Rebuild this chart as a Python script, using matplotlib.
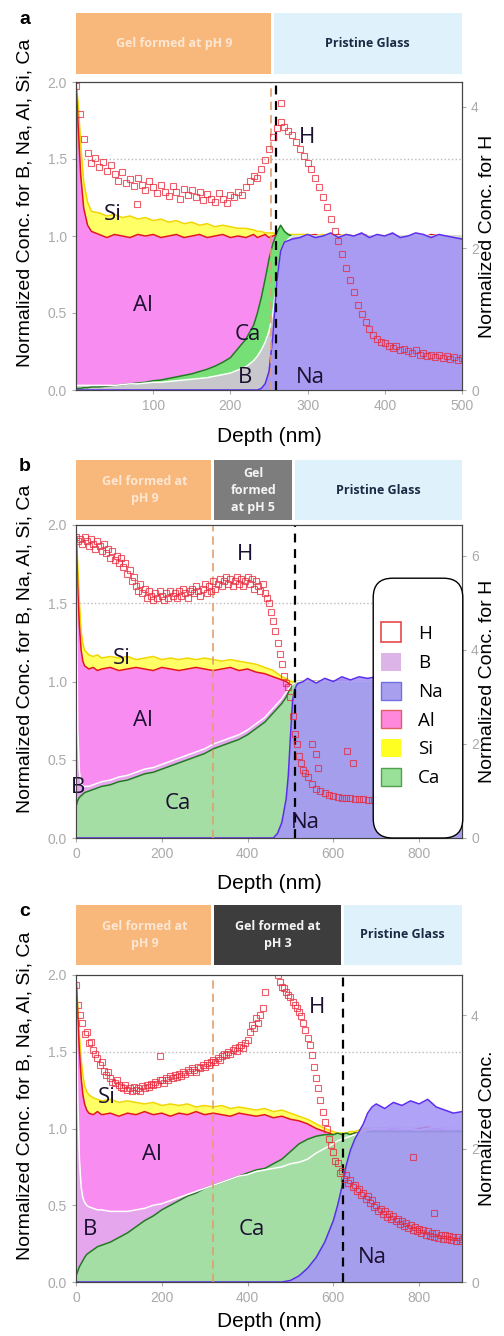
import matplotlib
matplotlib.use("Agg")
import matplotlib.pyplot as plt
from matplotlib.patches import Patch, FancyBboxPatch
from matplotlib.lines import Line2D

plt.rcParams["font.family"] = ["Liberation Sans", "DejaVu Sans"]

# ---------------- panel a : gel formed at pH 9 ----------------
DEPTH_A = [0, 3, 6, 10, 15, 20, 30, 40, 50, 60, 70, 80, 90, 100, 110, 120, 130, 140, 150, 160,
           170, 180, 190, 200, 210, 220, 230, 235, 240, 245, 250, 255, 260, 265, 270, 275, 280,
           290, 300, 310, 320, 330, 340, 350, 360, 370, 380, 390, 400, 410, 420, 430, 440, 450,
           460, 470, 480, 490, 500]
AL_A = [2.0, 1.7, 1.4, 1.18, 1.07, 1.03,
        1.01, 0.99, 1.01, 1.0, 0.99, 1.01, 1.0, 1.01, 0.99, 1.0, 1.01, 0.99, 1.0, 1.01, 0.99,
        1.0, 1.01, 0.99, 1.0, 0.99, 1.01,
        0.99, 1.0, 1.01, 0.99, 1.0, 1.01, 1.0, 0.99, 1.0, 1.0,
        0.99, 1.0, 1.01, 0.99, 1.0, 1.01, 0.99, 1.0, 1.01, 1.0, 0.99, 1.0, 1.01, 0.99, 1.0, 1.0,
        0.99, 1.01, 1.0, 0.99, 1.0, 1.0]
SI_A = [2.0, 1.85, 1.6, 1.35, 1.22, 1.16,
        1.15, 1.13, 1.14, 1.12, 1.13, 1.11, 1.12, 1.1, 1.11, 1.09, 1.1, 1.08, 1.09, 1.07, 1.08,
        1.06, 1.07, 1.06, 1.05, 1.05, 1.04,
        1.03, 1.03, 1.02, 1.02, 1.02, 1.01, 1.01, 1.01, 1.01, 1.01,
        1.01, 1.01, 1.0, 1.01, 1.0, 1.0, 1.01, 1.0, 1.0, 1.0, 1.0, 1.0, 1.0, 1.0, 1.0, 1.0,
        1.0, 1.0, 1.0, 1.0, 1.0, 1.0]
CA_A = [0.01, 0.01, 0.01, 0.015, 0.015, 0.02,
        0.02, 0.025, 0.03, 0.035, 0.04, 0.045, 0.05, 0.06, 0.065, 0.075, 0.085, 0.095, 0.105,
        0.12, 0.135, 0.155, 0.18, 0.21, 0.27, 0.33, 0.42,
        0.5, 0.6, 0.72, 0.85, 0.95, 1.02, 1.07, 1.03, 1.01, 1.0,
        1.0, 1.0, 1.0, 1.0, 1.0, 1.0, 1.0, 1.0, 1.0, 1.0, 1.0, 1.0, 1.0, 1.0, 1.0, 1.0,
        1.0, 1.0, 1.0, 1.0, 1.0, 1.0]
B_A = [0.03, 0.03, 0.03, 0.03, 0.03, 0.03,
       0.03, 0.03, 0.03, 0.035, 0.04, 0.04, 0.045, 0.05, 0.05, 0.055, 0.06, 0.065, 0.07,
       0.075, 0.08, 0.09, 0.1, 0.11, 0.13, 0.15, 0.19,
       0.22, 0.26, 0.31, 0.38, 0.5, 0.7, 0.88, 0.95, 0.98, 1.0,
       1.0, 1.0, 1.0, 1.0, 1.0, 1.0, 1.0, 1.0, 1.0, 1.0, 1.0, 1.0, 1.0, 1.0, 1.0, 1.0,
       1.0, 1.0, 1.0, 1.0, 1.0, 1.0]
NA_A = [0.0] * 27 + [
        0.0, 0.01, 0.04, 0.12, 0.35, 0.7, 0.9, 0.96, 0.97, 0.98,
        0.99, 1.01, 0.99, 1.0, 1.02, 0.99, 1.01, 1.0, 1.02, 0.99, 1.01, 1.0, 1.02, 0.99, 1.0,
        1.02, 1.01, 0.99, 1.01, 1.0, 0.99, 0.98]
H_X_A = [0, 5, 10, 15, 20, 25, 30, 35, 40, 45, 50, 55, 60, 65, 70, 75, 80, 85, 90, 95,
         100, 105, 110, 115, 120, 125, 130, 135, 140, 145, 150, 155, 160, 165, 170, 175, 180,
         185, 190, 195, 200, 205, 210, 215, 220, 225, 230, 235, 240, 245, 250, 255, 260, 265,
         270, 275, 280, 285, 290, 295, 300, 305, 310, 315, 320, 325, 330, 335, 340, 345, 350,
         355, 360, 365, 370, 375, 380, 385, 390, 395, 400, 405, 410, 415, 420, 425, 430, 435,
         440, 445, 450, 455, 460, 465, 470, 475, 480, 485, 490, 495, 500, 79, 266]
H_A = [4.3, 3.9, 3.55, 3.35, 3.2, 3.28, 3.15, 3.22, 3.1, 3.18,
       3.05, 2.95, 3.08, 2.92, 2.98, 2.88, 3.0, 2.9, 2.82, 2.95,
       2.86, 2.78, 2.9, 2.8, 2.74, 2.88, 2.79, 2.7, 2.84, 2.76,
       2.82, 2.72, 2.8, 2.68, 2.77, 2.7, 2.66, 2.78, 2.7, 2.64,
       2.76, 2.72, 2.8, 2.75, 2.86, 2.95, 3.02, 3.0, 3.12, 3.25,
       3.4, 3.58, 3.7, 3.78, 3.72, 3.66, 3.6, 3.5, 3.4, 3.3,
       3.2, 3.12, 3.0, 2.86, 2.72, 2.58, 2.42, 2.25, 2.1, 1.92,
       1.72, 1.55, 1.38, 1.2, 1.08, 0.96, 0.86, 0.78, 0.72, 0.68,
       0.66, 0.62, 0.6, 0.62, 0.56, 0.58, 0.55, 0.52, 0.56, 0.5,
       0.52, 0.48, 0.5, 0.47, 0.5, 0.45, 0.48, 0.44, 0.46, 0.43,
       0.45, 2.62, 4.05]

# ---------------- panel b : pH 9 then pH 5 ----------------
DEPTH_B = [0, 4, 8, 12, 16, 20, 30, 40, 50, 60, 80, 100, 120, 140, 160, 180, 200, 220, 240,
           260, 280, 300, 320, 340, 360, 380, 400, 420, 440, 460, 470, 480, 490, 495, 500, 505,
           510, 515, 520, 530, 540, 560, 580, 600, 620, 640, 660, 680, 700, 720, 740, 760, 780,
           800, 820, 840, 860, 880, 900]
AL_B = [2.0, 1.6, 1.35, 1.2, 1.13, 1.1,
        1.08, 1.09, 1.07, 1.08,
        1.09, 1.07, 1.08, 1.09, 1.08, 1.07, 1.09, 1.08, 1.07, 1.08, 1.09, 1.08, 1.07, 1.08,
        1.09, 1.07, 1.08, 1.06, 1.05, 1.03,
        1.02, 1.01, 1.0, 0.99, 0.98, 0.97, 0.97, 0.98, 0.98,
        0.99, 1.0,
        1.0, 0.99, 1.0, 1.01, 1.0, 0.99, 1.0, 1.0, 1.01, 1.0, 0.99, 1.0, 1.0, 1.01, 1.0, 0.99,
        1.0, 1.0]
SI_B = [2.0, 1.75, 1.5, 1.32, 1.24, 1.2,
        1.17, 1.16, 1.17, 1.15,
        1.16, 1.15, 1.16, 1.14, 1.15, 1.16, 1.14, 1.15, 1.14, 1.15, 1.14, 1.15, 1.14, 1.13,
        1.14, 1.13, 1.12, 1.11, 1.09, 1.07,
        1.05, 1.03, 1.02, 1.01, 1.0, 1.0, 1.0, 1.0, 1.0,
        1.0, 1.0,
        1.0, 1.0, 1.0, 1.0, 1.0, 1.0, 1.0, 1.0, 1.0, 1.0, 1.0, 1.0, 1.0, 1.0, 1.0, 1.0, 1.0, 1.0]
CA_B = [0.2, 0.24, 0.26, 0.27, 0.28, 0.29,
        0.3, 0.31, 0.32, 0.33,
        0.34, 0.36, 0.37, 0.39, 0.41, 0.42, 0.44, 0.46, 0.48, 0.5, 0.52, 0.54, 0.57, 0.59,
        0.61, 0.63, 0.66, 0.7, 0.74, 0.8,
        0.83, 0.86, 0.9, 0.93, 0.96, 0.98, 0.99, 1.0, 1.0,
        1.0, 1.0,
        1.0, 1.0, 1.0, 1.0, 1.0, 1.0, 1.0, 1.0, 1.0, 1.0, 1.0, 1.0, 1.0, 1.0, 1.0, 1.0, 1.0, 1.0]
B_B = [1.9, 0.7, 0.42, 0.35, 0.33, 0.33,
       0.33, 0.34, 0.35, 0.36,
       0.37, 0.39, 0.4, 0.42, 0.44, 0.45, 0.47, 0.49, 0.51, 0.53, 0.55, 0.57, 0.6, 0.62,
       0.64, 0.66, 0.69, 0.73, 0.77, 0.83,
       0.86, 0.89, 0.93, 0.95, 0.97, 0.98, 0.99, 1.0, 1.0,
       1.0, 1.0,
       1.0, 1.0, 1.0, 1.0, 1.0, 1.0, 1.0, 1.0, 1.0, 1.0, 1.0, 1.0, 1.0, 1.0, 1.0, 1.0, 1.0, 1.0]
NA_B = [0.0] * 30 + [
        0.03, 0.1, 0.25, 0.4, 0.65, 0.88, 0.95, 0.98, 0.99,
        1.0, 1.02,
        0.99, 1.02, 1.0, 1.03, 1.01, 1.03, 1.02, 1.03, 1.01, 1.02, 1.0, 1.03, 1.01, 1.02, 1.0,
        1.02, 1.01, 1.02]
H_X_B = [0, 5, 10, 15, 20, 25, 30, 35, 40, 45, 50, 55, 60, 65, 70, 75, 80, 85, 90, 95,
         100, 105, 110, 115, 120, 125, 130, 135, 140, 145, 150, 155, 160, 165, 170, 175, 180,
         185, 190, 195, 200, 205, 210, 215, 220, 225, 230, 235, 240, 245, 250, 255, 260, 265,
         270, 275, 280, 285, 290, 295, 300, 305, 310, 315, 320, 325, 330, 335, 340, 345, 350,
         355, 360, 365, 370, 375, 380, 385, 390, 395, 400, 405, 410, 415, 420, 425, 430, 435,
         440, 445, 450, 455, 460, 465, 470, 475, 480, 485, 490, 495, 500, 505, 510,
         515, 520, 525, 530, 535, 540, 550, 560, 570, 580, 590, 600, 610, 620, 630, 640, 650,
         660, 670, 680, 690, 700, 720, 740, 760, 780, 800, 820, 840, 860, 880, 900,
         550, 560, 565, 632, 645]
H_B = [6.4, 6.3, 6.35, 6.25, 6.4, 6.3, 6.2, 6.35, 6.25, 6.15,
       6.3, 6.2, 6.1, 6.25, 6.05, 6.15, 5.95, 6.1, 5.9, 6.0,
       5.85, 5.95, 5.75, 5.85, 5.6, 5.7, 5.45, 5.55, 5.35, 5.25,
       5.4, 5.2, 5.3, 5.1, 5.25, 5.15, 5.05, 5.2, 5.1, 5.25,
       5.15, 5.05, 5.2, 5.1, 5.25, 5.15, 5.2, 5.1, 5.25, 5.15,
       5.3, 5.2, 5.1, 5.25, 5.3, 5.2, 5.35, 5.25, 5.15, 5.3,
       5.4, 5.2, 5.35, 5.25, 5.45, 5.3, 5.4, 5.5, 5.35, 5.45,
       5.55, 5.4, 5.5, 5.35, 5.45, 5.55, 5.4, 5.5, 5.35, 5.45,
       5.55, 5.4, 5.5, 5.3, 5.45, 5.35, 5.25, 5.4, 5.2, 5.1,
       5.0, 4.8, 4.6, 4.4, 4.15, 3.9, 3.7, 3.45, 3.3, 3.2,
       3.0, 2.6, 2.2,
       2.0, 1.75, 1.6, 1.45, 1.38, 1.3, 1.15, 1.05, 1.0, 0.95, 0.92, 0.9, 0.88, 0.86, 0.85,
       0.84, 0.83, 0.82, 0.82, 0.81, 0.8, 0.8, 0.79, 0.78, 0.78, 0.77, 0.77, 0.76, 0.76,
       0.75, 0.75, 0.74,
       2.0, 1.79, 1.48, 1.85, 1.6]

# ---------------- panel c : pH 9 then pH 3 ----------------
DEPTH_C = [0, 4, 8, 12, 16, 20, 25, 30, 40, 50, 60, 80, 100, 120, 140, 160, 180, 200, 220,
           240, 260, 280, 300, 320, 340, 360, 380, 400, 420, 440, 460, 480, 500, 520, 540, 560,
           580, 600, 610, 620, 630, 640, 650, 660, 670, 680, 690, 700, 720, 740, 760, 780, 800,
           820, 840, 860, 880, 900]
AL_C = [2.0, 1.75, 1.5, 1.33, 1.22, 1.16, 1.12, 1.1,
        1.09, 1.11, 1.09,
        1.1, 1.08, 1.1, 1.09, 1.11, 1.09, 1.1, 1.08, 1.1, 1.09, 1.11, 1.09, 1.1, 1.09, 1.08,
        1.1, 1.09, 1.08, 1.09, 1.07, 1.08, 1.06, 1.05, 1.03, 1.0, 0.98, 0.96,
        0.95, 0.96, 0.95, 0.96, 0.97, 0.97, 0.98, 0.99, 1.0, 1.0,
        1.0, 1.01, 1.0, 0.99, 1.0, 1.01, 1.0, 1.0, 0.99, 1.0]
SI_C = [2.0, 1.8, 1.6, 1.45, 1.35, 1.28, 1.24, 1.22,
        1.2, 1.19, 1.18,
        1.19, 1.17, 1.18, 1.17, 1.16, 1.17, 1.15, 1.16, 1.15, 1.16, 1.14, 1.15, 1.14, 1.15,
        1.13, 1.14, 1.13, 1.12, 1.13, 1.11, 1.12, 1.1, 1.08, 1.06, 1.03, 1.0, 0.98,
        0.97, 0.97, 0.97, 0.98, 0.98, 0.99, 1.0, 1.0, 1.0, 1.0,
        1.0, 1.0, 1.0, 1.0, 1.0, 1.0, 1.0, 1.0, 1.0, 1.0]
CA_C = [0.04, 0.07, 0.1, 0.12, 0.14, 0.16, 0.18, 0.19,
        0.21, 0.23, 0.24,
        0.26, 0.29, 0.32, 0.36, 0.4, 0.43, 0.47, 0.5, 0.53, 0.56, 0.58, 0.61, 0.63, 0.65,
        0.67, 0.69, 0.71, 0.73, 0.74, 0.77, 0.8, 0.85, 0.9, 0.93, 0.95, 0.96, 0.96,
        0.97, 0.96, 0.97, 0.96, 0.97, 0.97, 0.98, 0.98, 0.98, 0.98,
        0.98, 0.98, 0.98, 0.98, 0.98, 0.98, 0.98, 0.98, 0.98, 0.98]
B_C = [1.9, 1.2, 0.8, 0.62, 0.55, 0.52, 0.5, 0.49,
       0.48, 0.47, 0.47,
       0.46, 0.46, 0.46, 0.47, 0.48, 0.5, 0.51, 0.53, 0.55, 0.57, 0.59, 0.61, 0.63, 0.65,
       0.67, 0.69, 0.7, 0.72, 0.73, 0.74, 0.75, 0.77, 0.78, 0.8, 0.84, 0.87, 0.9,
       0.92, 0.93, 0.94, 0.95, 0.96, 0.97, 0.98, 0.99, 1.0, 1.0,
       1.0, 1.01, 1.0, 1.0, 0.99, 1.0, 1.01, 1.0, 1.0, 1.0]
NA_C = [0.0] * 32 + [
        0.01, 0.04, 0.09, 0.16, 0.26, 0.4,
        0.5, 0.62, 0.76, 0.86, 0.93, 0.98, 1.03, 1.1, 1.14, 1.16,
        1.13, 1.17, 1.15, 1.18, 1.16, 1.19, 1.14, 1.12, 1.1, 1.11]
H_X_C = [0, 5, 10, 15, 20, 25, 30, 35, 40, 45, 50, 55, 60, 65, 70, 75, 80, 85, 90, 95,
         100, 105, 110, 115, 120, 125, 130, 135, 140, 145, 150, 155, 160, 165, 170, 175, 180,
         185, 190, 195, 200, 205, 210, 215, 220, 225, 230, 235, 240, 245, 250, 255, 260, 265,
         270, 275, 280, 285, 290, 295, 300, 305, 310, 315, 320, 325, 330, 335, 340, 345, 350,
         355, 360, 365, 370, 375, 380, 385, 390, 395, 400, 405, 410, 415, 420, 425, 430, 435,
         440, 445, 450, 455, 460, 465, 470, 475, 480, 485, 490, 495, 500, 505, 510, 515, 520,
         525, 530, 535, 540, 545, 550, 555, 560, 565, 570, 575, 580, 585, 590, 595, 600, 605,
         610, 615, 620, 625, 630, 635, 640, 645, 650, 655, 660, 665, 670, 675, 680, 685, 690,
         695, 700, 705, 710, 715, 720, 725, 730, 735, 740, 745, 750, 755, 760, 765, 770, 775,
         780, 785, 790, 795, 800, 805, 810, 815, 820, 825, 830, 835, 840, 845, 850, 855, 860,
         865, 870, 875, 880, 885, 890, 895, 900, 195, 785, 835]
H_C = [4.45, 4.15, 4.0, 3.88, 3.72, 3.75, 3.58, 3.6, 3.47, 3.42,
       3.35, 3.25, 3.3, 3.16, 3.1, 3.14, 3.05, 3.0, 2.98, 3.02,
       2.95, 2.92, 2.9, 2.95, 2.88, 2.9, 2.86, 2.92, 2.88, 2.9,
       2.86, 2.93, 2.9, 2.95, 2.92, 2.97, 2.95, 3.0, 2.97, 3.02,
       3.02, 2.98, 3.05, 3.02, 3.08, 3.05, 3.1, 3.07, 3.12, 3.09,
       3.15, 3.12, 3.18, 3.15, 3.2, 3.18, 3.15, 3.22, 3.2, 3.25,
       3.22, 3.28, 3.25, 3.3, 3.33, 3.3, 3.36, 3.33, 3.38, 3.42,
       3.4, 3.45, 3.42, 3.48, 3.5, 3.46, 3.52, 3.55, 3.5, 3.58,
       3.62, 3.75, 3.85, 3.8, 3.95, 3.88, 4.0, 4.1, 4.35,
       4.8, 5.0, 5.0, 4.9, 4.75, 4.6, 4.5, 4.42, 4.4, 4.35, 4.3,
       4.27, 4.2, 4.15, 4.1, 4.05, 3.98, 3.88, 3.78, 3.65, 3.55,
       3.4, 3.22, 3.05, 2.9, 2.72, 2.55, 2.4, 2.3, 2.15, 2.05,
       1.95, 1.82, 1.78, 1.64, 1.66, 1.55, 1.6, 1.48, 1.53, 1.42,
       1.46, 1.36, 1.4, 1.3, 1.34, 1.24, 1.29, 1.19, 1.23, 1.13,
       1.15, 1.07, 1.1, 1.02, 1.06, 0.98, 1.02, 0.95, 0.99, 0.91,
       0.95, 0.87, 0.91, 0.84, 0.88, 0.81, 0.85, 0.78, 0.83, 0.76,
       0.8, 0.73, 0.78, 0.71, 0.76, 0.69, 0.74, 0.68, 0.73, 0.66,
       0.71, 0.65, 0.7, 0.64, 0.69, 0.63, 0.68, 0.62, 0.67, 0.61,
       0.65, 3.38, 1.87, 1.03]

FILL = {"Si": "#ffff66", "Al": "#f98cf0", "Ca": "#7ade7a", "B": "#e6a6ee", "Na": "#a595f7"}
EDGE = {"Si": "#f2d600", "Al": "#e3161f", "Ca": "#1e7d1e", "B": "#ffffff", "Na": "#5b2cf0"}
ALPHA = {"Si": 1.0, "Al": 1.0, "Ca": 1.0, "B": 1.0, "Na": 0.88}
# fill z-order for each element; line sits just above its fill
ZFILL = {"Si": 1, "Al": 2, "B": 3, "Ca": 4, "Na": 6}

ORANGE, BLUE = "#f8b87c", "#dff2fb"
W, H = 504, 1336


def frac(left, top, right, bottom):
    return [left / W, 1 - bottom / H, (right - left) / W, (bottom - top) / H]


fig = plt.figure(figsize=(5.04, 13.36), dpi=100)


def panel(letter, top, bottom, head, depth, conc, hx, hy, xmax, xticks, hmax, hticks,
          edges, zcolors, ztexts, ztcolors, vlines, labels, rlabel, fills, xpad):
    ax = fig.add_axes(frac(76, top, 462, bottom))
    for el, zf in ZFILL.items():
        if el == "B" and "B_z" in fills:
            zf = fills["B_z"]
        ax.fill_between(depth, 0, conc[el], color=fills.get(el, FILL[el]), alpha=ALPHA[el],
                        lw=0, zorder=zf)
        zl = 5 if el == "B" else zf + 0.5
        ax.plot(depth, conc[el], color=EDGE[el], lw=1.1, zorder=zl)
    ax.axhline(1.5, color="#bbbbbb", ls=":", lw=1, zorder=0.5)
    ax.axvline(vlines[0], color="#e0a070", ls=(0, (5, 3)), lw=1.2, zorder=20)
    ax.axvline(vlines[1], color="black", ls=(0, (4, 3)), lw=1.6, zorder=20)
    for s, x, y in labels:
        ax.text(x, y, s, fontsize=16, color="#1c1030", ha="center", va="center",
                family=["Open Sans", "DejaVu Sans"], zorder=25)
    ax.set_xlim(0, xmax)
    ax.set_ylim(0, 2.0)
    ax.set_xticks(xticks)
    ax.set_yticks([0, 0.5, 1.0, 1.5, 2.0])
    ax.set_yticklabels(["0.0", "0.5", "1.0", "1.5", "2.0"])
    ax.tick_params(colors="#aaaaaa", labelsize=10, length=3, width=0.8)
    for sp in ax.spines.values():
        sp.set_color("#444444")
    ax.set_xlabel("Depth (nm)", fontsize=15, labelpad=xpad)

    ax2 = ax.twinx()
    ax2.plot(hx, hy, "s", mfc="none", mec="#e8283a", ms=4.5, mew=0.8, alpha=0.75)
    ax2.set_ylim(0, hmax)
    ax2.set_yticks(hticks)
    ax2.tick_params(colors="#aaaaaa", labelsize=10, length=3, width=0.8)
    for sp in ax2.spines.values():
        sp.set_color("#444444")

    mid = (top + bottom) / 2
    fig.text(25 / W, 1 - (mid - 33) / H, "Normalized Conc. for B, Na, Al, Si, Ca",
             rotation=90, ha="center", va="center", fontsize=14)
    fig.text(488 / W, 1 - mid / H, rlabel, rotation=90, ha="center", va="center", fontsize=14)
    fig.text(25 / W, 1 - (head[0] + 6) / H, letter, fontsize=14, weight="bold",
             ha="center", va="center")

    hd = fig.add_axes(frac(76, head[0], 462, head[1]))
    hd.set_xlim(0, xmax)
    hd.set_ylim(0, 1)
    hd.axis("off")
    gap = xmax * 0.004
    for lo, hi, c, t, tc in zip(edges[:-1], edges[1:], zcolors, ztexts, ztcolors):
        a = lo + gap if lo > 0 else lo
        b = hi - gap if hi < xmax else hi
        hd.axvspan(a, b, color=c, lw=0)
        hd.text((lo + hi) / 2, 0.5, t, ha="center", va="center", color=tc, fontsize=9,
                weight="bold", family=["Open Sans", "DejaVu Sans"], linespacing=1.4)
    return ax, ax2


panel("a", 82, 390, (13, 74), DEPTH_A,
      {"Si": SI_A, "Al": AL_A, "Ca": CA_A, "B": B_A, "Na": NA_A}, H_X_A, H_A,
      500, [100, 200, 300, 400, 500], 4.35, [0, 2, 4],
      [0, 255, 500], [ORANGE, BLUE], ["Gel formed at pH 9", "Pristine Glass"],
      ["#fde6d2", "#1b2b45"], (252, 259),
      [("Si", 48, 1.14), ("H", 299, 1.64), ("Al", 87, 0.55), ("Ca", 223, 0.36),
       ("B", 219, 0.08), ("Na", 303, 0.08)],
      "Normalized Conc. for H",
      {"B": "#c8c8cc", "B_z": 4.2, "Ca": "#76e076"}, 10)

axb, axb2 = panel("b", 525, 838, (460, 520), DEPTH_B,
                  {"Si": SI_B, "Al": AL_B, "Ca": CA_B, "B": B_B, "Na": NA_B}, H_X_B, H_B,
                  900, [0, 200, 400, 600, 800], 6.65, [0, 2, 4, 6],
                  [0, 319, 508, 900], [ORANGE, "#7d7d7d", BLUE],
                  ["Gel formed at\npH 9", "Gel\nformed\nat pH 5", "Pristine Glass"],
                  ["#fde6d2", "#f4f4f4", "#1b2b45"], (320, 510),
                  [("H", 394, 1.81), ("Si", 107, 1.15), ("Al", 157, 0.75), ("Ca", 238, 0.22),
                   ("B", 4, 0.32), ("Na", 534, 0.1)],
                  "Normalized Conc. for H",
                  {"Ca": "#a4dea4"}, 9)

panel("c", 975, 1282, (905, 965), DEPTH_C,
      {"Si": SI_C, "Al": AL_C, "Ca": CA_C, "B": B_C, "Na": NA_C}, H_X_C, H_C,
      900, [0, 200, 400, 600, 800], 4.6, [0, 2, 4],
      [0, 319, 621, 900], [ORANGE, "#3d3d3d", BLUE],
      ["Gel formed at\npH 9", "Gel formed at\npH 3", "Pristine Glass"],
      ["#fde6d2", "#f4f4f4", "#1b2b45"], (319, 622),
      [("H", 562, 1.79), ("Si", 72, 1.2), ("Al", 177, 0.83), ("B", 33, 0.34),
       ("Ca", 409, 0.34), ("Na", 691, 0.16)],
      "Normalized Conc.",
      {"Ca": "#a4dea4"}, 5)

# legend of panel b: rounded white box with the element swatches
box = FancyBboxPatch((0.77, 0.0), 0.232, 0.83, boxstyle="round,pad=0,rounding_size=0.05",
                     mutation_aspect=386 / 313, transform=axb2.transAxes, fc="white",
                     ec="black", lw=1.0, zorder=4, clip_on=False)
axb2.add_patch(box)
handles = [
    Line2D([], [], marker="s", ls="none", mfc="white", mec="#e84848", ms=14, mew=1.2, label="H"),
    Patch(fc="#dcb4e8", ec="none", label="B"),
    Patch(fc="#a8a0ee", ec="#7070e0", label="Na"),
    Patch(fc="#ff88dd", ec="#e06060", label="Al"),
    Patch(fc="#ffff22", ec="none", label="Si"),
    Patch(fc="#99e099", ec="#50a050", label="Ca"),
]
leg = axb2.legend(handles=handles, loc="center", bbox_to_anchor=(0.87, 0.423), frameon=False,
                  labelspacing=0.5, handlelength=1.1, handleheight=1.1, handletextpad=0.9,
                  borderpad=0, prop={"family": ["Open Sans", "DejaVu Sans"], "size": 13.5})
leg.set_zorder(5)

fig.savefig("out.png", dpi=100)
